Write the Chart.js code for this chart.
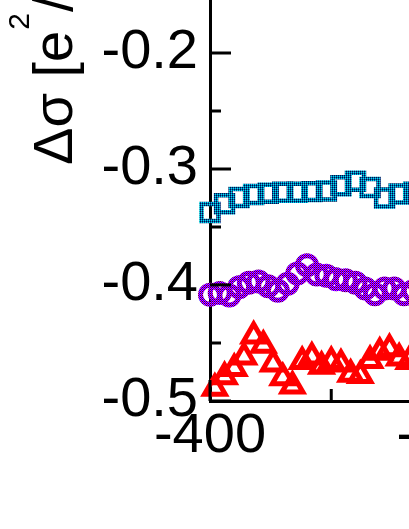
<!DOCTYPE html>
<html><head><meta charset="utf-8">
<script src="https://cdn.jsdelivr.net/npm/chart.js@4/dist/chart.umd.min.js"></script>
<style>
html,body{margin:0;padding:0;background:#fff;overflow:hidden;width:409px;height:529px}
#wrap{position:absolute;left:0;top:0;width:695px;height:529px}
</style>
</head><body><div id="wrap"><canvas id="c" width="695" height="529"></canvas></div>
<script>
// ---- data ----
const squareX = [-400,-394,-388,-382,-376,-370,-364,-358,-352,-346,-340,-334,-328,-322,-316];
const squareY = [-0.3375,-0.330,-0.3245,-0.322,-0.321,-0.320,-0.320,-0.3195,-0.319,-0.3145,-0.3105,-0.316,-0.325,-0.3215,-0.320];
const circleX = [-400,-396,-392,-388,-384,-380,-376,-372,-368,-364,-360,-356,-352,-348,-344,-340,-336,-332,-328,-324,-320,-316];
const circleY = [-0.4085,-0.407,-0.409,-0.402,-0.398,-0.397,-0.401,-0.405,-0.399,-0.390,-0.383,-0.391,-0.392,-0.395,-0.396,-0.398,-0.403,-0.408,-0.403,-0.403,-0.408,-0.405];
const triangleX = [-398,-394,-390,-386,-382,-378,-374,-370,-366,-362,-358,-354,-350,-346,-342,-338,-334,-330,-326,-322,-318,-314];
const triangleY = [-0.489,-0.479,-0.472,-0.462,-0.444,-0.452,-0.468,-0.480,-0.487,-0.466,-0.462,-0.470,-0.466,-0.468,-0.477,-0.478,-0.465,-0.458,-0.455,-0.463,-0.466,-0.464];
const yTickLabels = ['-0.5','-0.4','-0.3','-0.2'];
const xTickLabels = ['-400','-300','-200'];
const titleParts = ['Δσ [e', '2', '/h]'];

const FONT = '"Liberation Sans", Arial, Helvetica, sans-serif';

function pattern(colors) {
  const c = document.createElement('canvas');
  c.width = 2; c.height = 2;
  const g = c.getContext('2d');
  g.fillStyle = colors[0]; g.fillRect(0,0,1,1);
  g.fillStyle = colors[1]; g.fillRect(1,0,1,1);
  g.fillStyle = colors[2]; g.fillRect(0,1,1,1);
  g.fillStyle = colors[3]; g.fillRect(1,1,1,1);
  return document.getElementById('c').getContext('2d').createPattern(c, 'repeat');
}
const squareColor = pattern(['#0040b0', '#00f0e0', '#001a40', '#0070b0']);
const circleColor = pattern(['#ff00ff', '#2000ff', '#400040', '#c000ff']);
const triangleColor = '#ff0000';

const pts = (xs, ys) => xs.map((x, i) => ({x, y: ys[i]}));

const tickMarks = {
  id: 'tickMarks',
  afterDraw(chart) {
    const {ctx, chartArea, scales} = chart;
    ctx.save();
    ctx.strokeStyle = '#000'; ctx.lineWidth = 3; ctx.lineCap = 'butt';
    scales.y.ticks.forEach(t => {
      const p = scales.y.getPixelForValue(t.value);
      const major = Math.round(t.value * 100) % 10 === 0;
      const len = major ? 21 : 11;
      ctx.beginPath(); ctx.moveTo(chartArea.left, p); ctx.lineTo(chartArea.left + len, p); ctx.stroke();
    });
    scales.x.ticks.forEach(t => {
      const p = scales.x.getPixelForValue(t.value);
      const major = Math.round(t.value) % 100 === 0;
      const len = major ? 21 : 12;
      ctx.beginPath(); ctx.moveTo(p, chartArea.bottom); ctx.lineTo(p, chartArea.bottom - len); ctx.stroke();
    });
    ctx.restore();
  }
};

const yTitle = {
  id: 'yTitle',
  afterDraw(chart) {
    const ctx = chart.ctx;
    ctx.save();
    ctx.translate(72, 165);
    ctx.rotate(-Math.PI / 2);
    ctx.fillStyle = '#000';
    ctx.textAlign = 'left'; ctx.textBaseline = 'alphabetic';
    ctx.font = '56px ' + FONT;
    ctx.fillText(titleParts[0], 0, 0);
    let w = ctx.measureText(titleParts[0]).width;
    ctx.font = '30px ' + FONT;
    ctx.fillText(titleParts[1], w + 1, -43);
    w += ctx.measureText(titleParts[1]).width + 2;
    ctx.font = '56px ' + FONT;
    ctx.fillText(titleParts[2], w, 0);
    ctx.restore();
  }
};

const common = {showLine: false, clip: false, backgroundColor: 'rgba(0,0,0,0)'};

new Chart(document.getElementById('c'), {
  type: 'scatter',
  data: {
    datasets: [
      Object.assign({label: 'squares', data: pts(squareX, squareY), pointStyle: 'rect', pointRadius: 12,
        borderColor: squareColor, pointBorderColor: squareColor, pointBorderWidth: 4.5}, common),
      Object.assign({label: 'circles', data: pts(circleX, circleY), pointStyle: 'circle', pointRadius: 9.5,
        borderColor: circleColor, pointBorderColor: circleColor, pointBorderWidth: 5}, common),
      Object.assign({label: 'triangles', data: pts(triangleX, triangleY), pointStyle: 'triangle', pointRadius: 12,
        borderColor: triangleColor, pointBorderColor: triangleColor, pointBorderWidth: 5}, common)
    ]
  },
  options: {
    responsive: false,
    animation: false,
    devicePixelRatio: 1,
    events: [],
    layout: {padding: 0, autoPadding: false},
    plugins: {legend: {display: false}, tooltip: {enabled: false}, title: {display: false}},
    scales: {
      x: {
        type: 'linear', position: 'bottom', min: -400, max: -200,
        grid: {display: false},
        border: {display: true, color: '#000', width: 3},
        ticks: {
          stepSize: 50, autoSkip: false, maxRotation: 0, padding: 0, color: '#000',
          font: {family: FONT, size: 56, lineHeight: 1},
          callback: v => { const r = Math.round(v); return xTickLabels.includes(String(r)) ? String(r) : ''; }
        },
        afterFit: s => { s.height = 128; s.paddingLeft = 0; s.paddingRight = 0; }
      },
      y: {
        type: 'linear', position: 'left', min: -0.5, max: -0.15431,
        grid: {display: false},
        border: {display: true, color: '#000', width: 3},
        ticks: {
          stepSize: 0.05, includeBounds: false, autoSkip: false, padding: 4, color: '#000',
          font: {family: FONT, size: 56, lineHeight: 1},
          callback: v => { const s = v.toFixed(1); return (Math.round(v * 100) % 10 === 0 && yTickLabels.includes(s)) ? s : ''; }
        },
        afterFit: s => { s.width = 210; s.paddingTop = 0; s.paddingBottom = 0; }
      }
    }
  },
  plugins: [tickMarks, yTitle]
});
</script>
</body></html>
